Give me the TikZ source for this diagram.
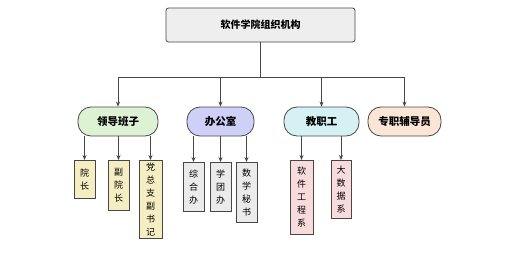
\documentclass[tikz,border=0pt]{standalone}
\usepackage{fontspec}
\newfontfamily\cjk{Noto Sans CJK SC}
\usetikzlibrary{arrows.meta}
\begin{document}
\begin{tikzpicture}[x=1pt,y=-1pt,
  line/.style={draw=black!72, line width=0.8pt},
  arr/.style={line, -{Stealth[length=5pt,width=4pt]}},
  topbox/.style={line, fill=gray!13, rounded corners=2.5pt, minimum width=189pt, minimum height=34pt, font=\cjk\bfseries\fontsize{10}{12}\selectfont},
  midbox/.style={line, rounded corners=13pt, minimum height=29pt, inner sep=0pt, font=\cjk\bfseries\fontsize{10.5}{12}\selectfont},
  leaf/.style={line, anchor=north, minimum width=21pt, inner sep=0pt, align=center, font=\cjk\fontsize{9}{13}\selectfont}
]
\useasboundingbox (0,0) rectangle (507,257);
\definecolor{cgreen}{HTML}{DDF2D3}
\definecolor{cviolet}{HTML}{CFD0F7}
\definecolor{ccyan}{HTML}{D6F1F4}
\definecolor{cpeach}{HTML}{FBE6D6}
\definecolor{cyellow}{HTML}{F6EEC3}
\definecolor{cgray}{HTML}{EBEBEB}
\definecolor{cpink}{HTML}{F8DCDC}

\node[topbox] (top) at (260.5,25) {软件学院组织机构};

\node[midbox, fill=cgreen, minimum width=80pt] (lead) at (118,121.5) {领导班子};
\node[midbox, fill=cviolet, minimum width=67pt] (off) at (220.5,121.5) {办公室};
\node[midbox, fill=ccyan, minimum width=75pt] (staff) at (321.5,121.5) {教职工};
\node[midbox, fill=cpeach, minimum width=73pt] (fd) at (404.5,121.5) {专职辅导员};

\node[leaf, fill=cyellow, minimum height=38pt] (a1) at (84.5,160) {院\\长};
\node[leaf, fill=cyellow, minimum height=50pt] (a2) at (118.5,160) {副\\院\\长};
\node[leaf, fill=cyellow, minimum height=78pt, minimum width=23pt] (a3) at (150.5,160) {党\\总\\支\\副\\书\\记};

\node[leaf, fill=cgray, minimum height=49pt] (b1) at (193.5,162) {综\\合\\办};
\node[leaf, fill=cgray, minimum height=49pt] (b2) at (220.5,162) {学\\团\\办};
\node[leaf, fill=cgray, minimum height=60pt] (b3) at (246.5,162) {数\\学\\秘\\书};

\node[leaf, fill=cpink, minimum height=74pt, minimum width=23pt] (c1) at (301.5,160) {软\\件\\工\\程\\系};
\node[leaf, fill=cpink, minimum height=58pt, minimum width=20pt] (c2) at (341,160) {大\\数\\据\\系};

\coordinate (bar) at (260.5,77);
\draw[line] (top.south) -- (bar);
\draw[line] (bar -| lead.north) -- (bar -| fd.north);
\foreach \n in {lead,off,staff,fd} \draw[arr] (bar -| \n.north) -- (\n.north);

\foreach \n in {a1,a2,a3} \draw[arr] (lead.south -| \n.north) -- (\n.north);
\foreach \n in {b1,b2,b3} \draw[arr] (off.south -| \n.north) -- (\n.north);
\foreach \n in {c1,c2} \draw[arr] (staff.south -| \n.north) -- (\n.north);
\end{tikzpicture}
\end{document}
